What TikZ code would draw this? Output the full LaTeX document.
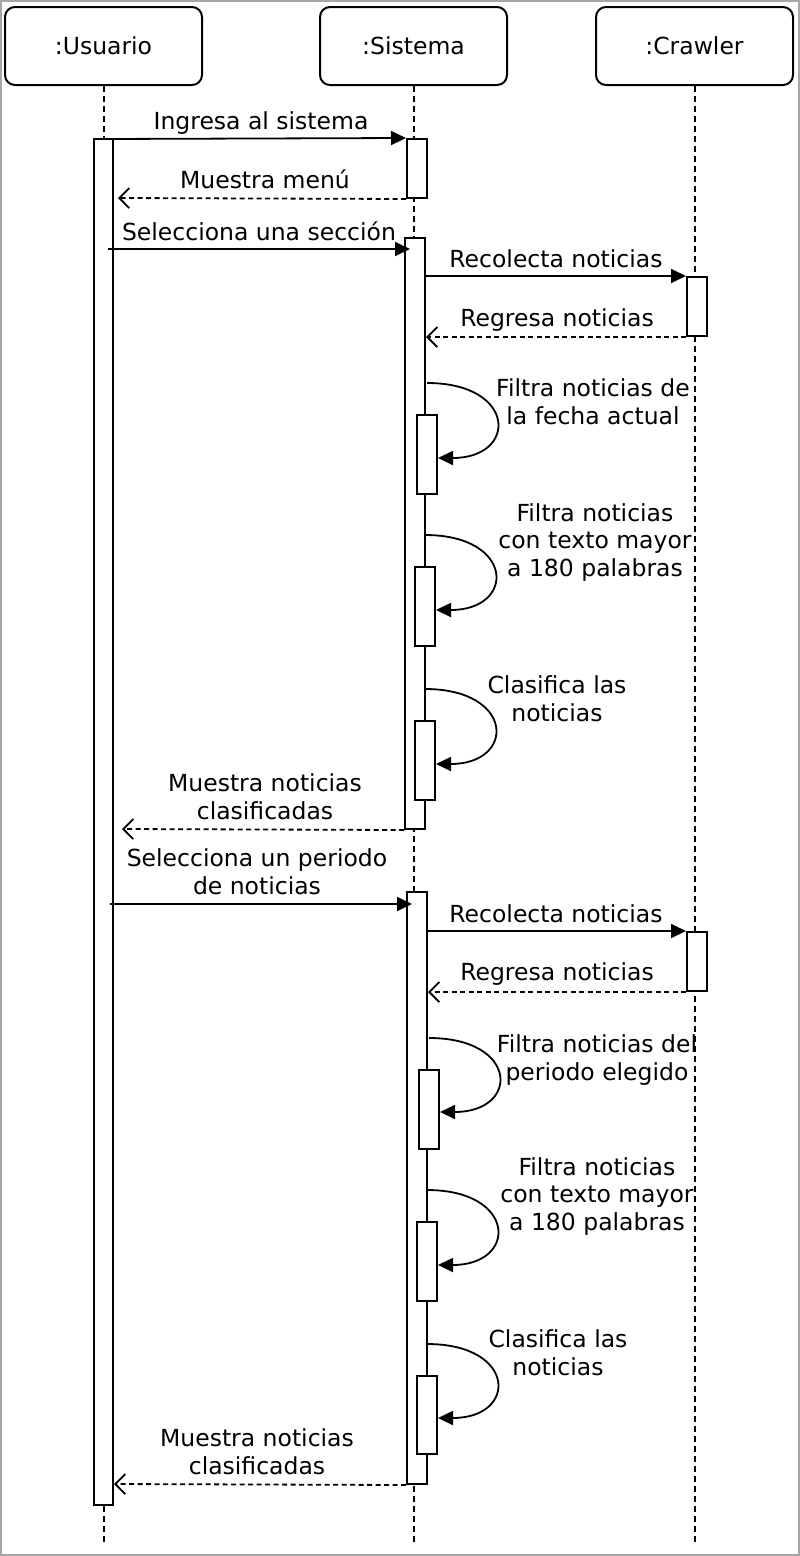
\documentclass[tikz,border=0pt]{standalone}
\usepackage{fontspec}
\setmainfont{DejaVu Sans}
\usetikzlibrary{arrows.meta}
\begin{document}
\begin{tikzpicture}[x=1pt,y=-1pt,
  head/.style={draw, line width=2pt, rounded corners=10pt, minimum width=197pt, minimum height=78pt, inner sep=0, font=\fontsize{23.5}{28}\selectfont},
  act/.style={draw, fill=white, line width=2pt, minimum width=20pt, inner sep=0},
  life/.style={line width=2pt, dash pattern=on 6pt off 4pt},
  call/.style={line width=1.8pt, -{Triangle[length=15pt,width=14pt]}},
  ret/.style={line width=1.8pt, dash pattern=on 5pt off 3.5pt, -{Straight Barb[length=10pt,width=20pt,line width=1.8pt]}},
  selfcall/.style={line width=1.8pt, -{Triangle[length=15pt,width=14pt]}},
  lbl/.style={align=center, font=\fontsize{23.5}{27.5}\selectfont, inner sep=0, anchor=base}
]
\useasboundingbox (0,0) rectangle (800,1556);
\draw[gray!70, line width=2pt] (1,1) rectangle (799,1555);

% headers
\node[head] (usuario) at (103.5,46) {:Usuario};
\node[head, minimum width=187pt] (sistema) at (413.5,46) {:Sistema};
\node[head] (crawler) at (694.5,46) {:Crawler};

% lifeline ends
\coordinate (uend) at (103.5,1545);
\coordinate (send) at (413.5,1545);
\coordinate (cend) at (694.5,1545);
\draw[life] (usuario.south) -- (uend);
\draw[life] (sistema.south) -- (send);
\draw[life] (crawler.south) -- (cend);

% activations
\node[act, minimum width=19pt, minimum height=1366pt] (ua) at (103.5,822) {};
\node[act, minimum height=59pt] (sa1) at (417,168.5) {};
\node[act, minimum height=591pt] (sa2) at (415,533.5) {};
\node[act, minimum height=59pt] (ca1) at (697,306.5) {};
\node[act, minimum height=79pt] (sb1) at (427,454.5) {};
\node[act, minimum height=79pt] (sb2) at (425,606.5) {};
\node[act, minimum height=79pt] (sb3) at (425,760.5) {};
\node[act, minimum height=592pt] (sa3) at (417,1188) {};
\node[act, minimum height=59pt] (ca2) at (697,961.5) {};
\node[act, minimum height=79pt] (sb4) at (429,1109.5) {};
\node[act, minimum height=79pt] (sb5) at (427,1261.5) {};
\node[act, minimum height=78pt] (sb6) at (427,1415) {};

% messages
\coordinate (m1s) at (103.5,139);
\draw[call] (m1s) -- (sa1.north west);
\node[lbl] (l1) at (261,129) {Ingresa al sistema};

\coordinate (m2e) at (118,198);
\draw[ret] (sa1.south west) -- (m2e);
\node[lbl] (l2) at (265,188) {Muestra menú};

\coordinate (m3s) at (108,249);
\coordinate (m3e) at (410,249);
\draw[call] (m3s) -- (m3e);
\node[lbl] (l3) at (259,240) {Selecciona una sección};

\draw[call] (sa2.east |- ca1.north) -- (ca1.north west);
\node[lbl] (l4) at (556,267) {Recolecta noticias};
\draw[ret] (ca1.south west) -- (sa2.east |- ca1.south);
\node[lbl] (l5) at (557,326) {Regresa noticias};

\coordinate (s1) at (427,383);
\draw[selfcall] (s1) .. controls +(90,0) and +(80,0) .. (sb1.east |- 0,458);
\node[lbl] (l6) at (593,424) {Filtra noticias de\\la fecha actual};

\coordinate (s2) at (425,535);
\draw[selfcall] (s2) .. controls +(90,0) and +(80,0) .. (sb2.east |- 0,610);
\node[lbl] (l7) at (595,576) {Filtra noticias\\con texto mayor\\a 180 palabras};

\coordinate (s3) at (425,689);
\draw[selfcall] (s3) .. controls +(90,0) and +(80,0) .. (sb3.east |- 0,764);
\node[lbl] (l8) at (557,721) {Clasifica las\\noticias};

\coordinate (m9e) at (122,829);
\draw[ret] (sa2.south west) -- (m9e);
\node[lbl] (l9) at (265,819) {Muestra noticias\\clasificadas};

\coordinate (m10s) at (110,904);
\coordinate (m10e) at (412,904);
\draw[call] (m10s) -- (m10e);
\node[lbl] (l10) at (257,894) {Selecciona un periodo\\de noticias};

\draw[call] (sa3.east |- ca2.north) -- (ca2.north west);
\node[lbl] (l11) at (556,922) {Recolecta noticias};
\draw[ret] (ca2.south west) -- (sa3.east |- ca2.south);
\node[lbl] (l12) at (557,980) {Regresa noticias};

\coordinate (s4) at (429,1038);
\draw[selfcall] (s4) .. controls +(90,0) and +(80,0) .. (sb4.east |- 0,1112);
\node[lbl] (l13) at (597,1080) {Filtra noticias del\\periodo elegido};

\coordinate (s5) at (427,1190);
\draw[selfcall] (s5) .. controls +(90,0) and +(80,0) .. (sb5.east |- 0,1265);
\node[lbl] (l14) at (597,1230) {Filtra noticias\\con texto mayor\\a 180 palabras};

\coordinate (s6) at (427,1344);
\draw[selfcall] (s6) .. controls +(90,0) and +(80,0) .. (sb6.east |- 0,1418);
\node[lbl] (l15) at (558,1375) {Clasifica las\\noticias};

\coordinate (m16e) at (114,1484);
\draw[ret] (sa3.south west) -- (m16e);
\node[lbl] (l16) at (257,1474) {Muestra noticias\\clasificadas};
\end{tikzpicture}
\end{document}
